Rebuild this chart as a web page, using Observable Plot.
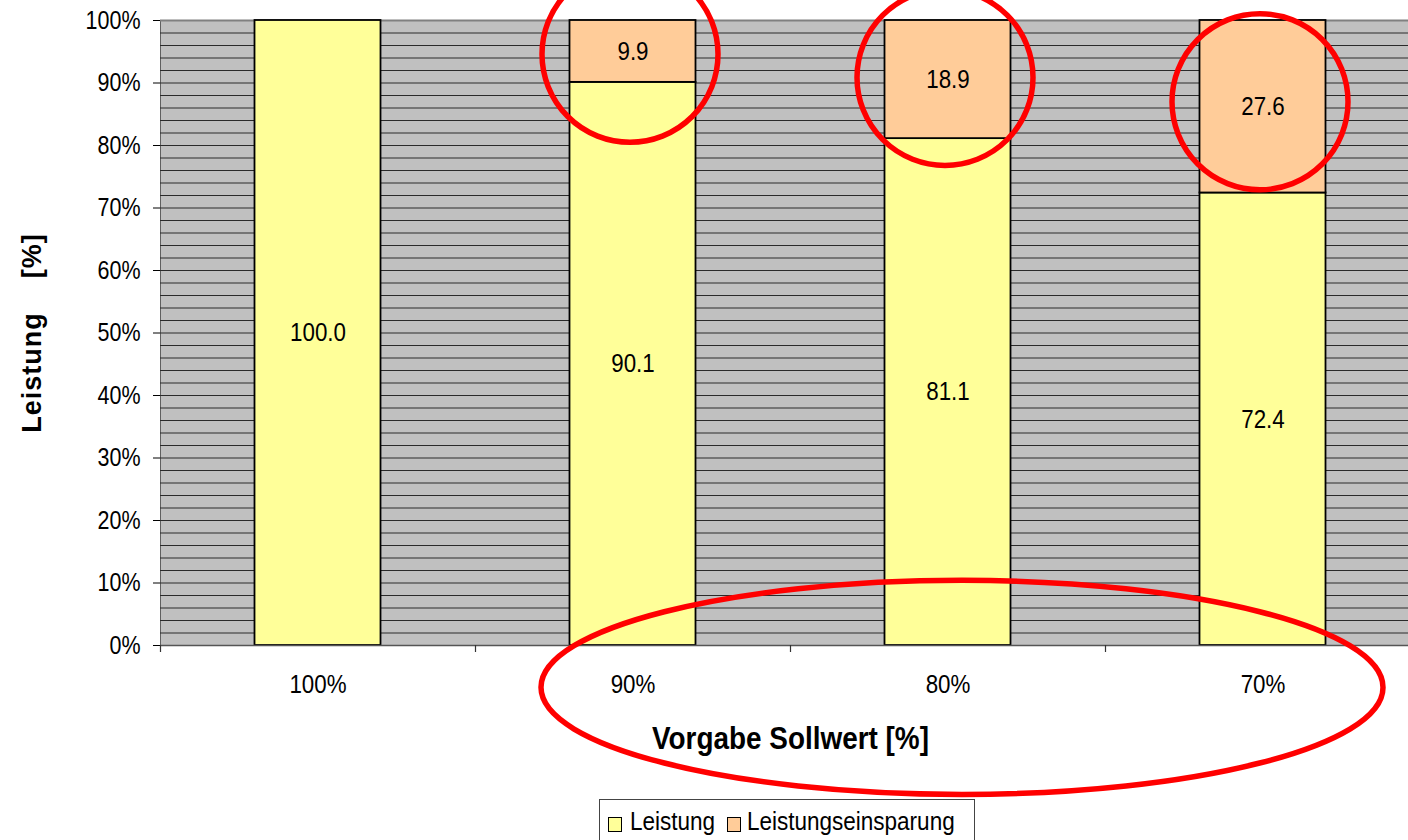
<!DOCTYPE html>
<html>
<head>
<meta charset="utf-8">
<script src="https://cdn.jsdelivr.net/npm/d3@7"></script>
<script src="https://cdn.jsdelivr.net/npm/@observablehq/plot@0.6"></script>
<style>
  body { margin: 0; overflow: hidden; background: #fff; }
  #wrap { position: relative; width: 1420px; height: 840px; font-family: "Liberation Sans", Arial, sans-serif; }
  #legend { position: absolute; left: 599px; top: 799px; width: 376px; height: 50px; box-sizing: border-box;
            border: 1px solid #444; font-size: 25px; line-height: 25px; color: #000; }
  .sw { position: absolute; top: 17px; width: 12px; height: 13px; border: 1px solid #000; }
  .lt { position: absolute; top: 9px; white-space: nowrap; transform: scaleX(0.9); transform-origin: 0 50%; }
</style>
</head>
<body>
<div id="wrap"></div>
<script>
// ---- data ----
const categories = ["100%", "90%", "80%", "70%"];
const leistung = [100.0, 90.1, 81.1, 72.4];
const einsparung = [0, 9.9, 18.9, 27.6];
const seriesNames = ["Leistung", "Leistungseinsparung"];
const seriesColors = ["#FFFF99", "#FFCC99"];
const yTicks = [0, 10, 20, 30, 40, 50, 60, 70, 80, 90, 100];
// annotation marks (red circles around savings, ellipse around reduced setpoints)
const circleCats = ["90%", "80%", "70%"];
const circleY = [94.6, 90.9, 87.0];
const ellipseCat = ["80%"];
const ellipseY = [-6.7];

const table = [];
categories.forEach((c, i) => {
  table.push({cat: c, series: seriesNames[0], value: leistung[i]});
  if (einsparung[i] > 0) table.push({cat: c, series: seriesNames[1], value: einsparung[i]});
});

const W = 1420, H = 800, mL = 160, mR = 0, mT = 20, mB = 155;
const step = (W - mL - mR) / categories.length;
const inset = step * 0.3;
const FONT = '"Liberation Sans", Arial, sans-serif';

function ellipseSymbol(rx, ry) {
  const k = 0.5522847498;
  return {
    draw(ctx) {
      ctx.moveTo(rx, 0);
      ctx.bezierCurveTo(rx, ry * k, rx * k, ry, 0, ry);
      ctx.bezierCurveTo(-rx * k, ry, -rx, ry * k, -rx, 0);
      ctx.bezierCurveTo(-rx, -ry * k, -rx * k, -ry, 0, -ry);
      ctx.bezierCurveTo(rx * k, -ry, rx, -ry * k, rx, 0);
      ctx.closePath();
    }
  };
}

const chart = Plot.plot({
  width: W, height: H,
  marginLeft: mL, marginRight: mR, marginTop: mT, marginBottom: mB,
  style: {fontFamily: FONT, fontSize: "26px", background: "white", maxWidth: "none", overflow: "visible", color: "#000"},
  x: {domain: categories, padding: 0, tickSize: 0, tickPadding: 29, label: null},
  y: {domain: [0, 100], ticks: yTicks, tickFormat: d => d + "%", tickSize: 7, tickPadding: 13, label: null, line: true},
  color: {domain: seriesNames, range: seriesColors},
  marks: [
    Plot.frame({fill: "#C0C0C0", stroke: null}),
    Plot.ruleY(d3.range(2, 100, 2), {stroke: "#2a2a2a", strokeWidth: 1}),
    Plot.ruleY([100], {stroke: "#808080", strokeWidth: 2}),
    Plot.barY(table, {x: "cat", y: "value", fill: "series", stroke: "#000", strokeWidth: 1.8, insetLeft: inset, insetRight: inset}),
    Plot.ruleY([0], {stroke: "#555", strokeWidth: 1.5}),
    Plot.ruleX(categories, {x: d => d, dx: -step / 2, y1: 0, y2: 0, insetBottom: -7, stroke: "#333", strokeWidth: 1.2}),
    Plot.text(table, Plot.stackY({x: "cat", y: "value", z: "series", text: d => d.value.toFixed(1), fill: "#000"})),
    Plot.text(["Leistung    [%]"], {frameAnchor: "left", textAnchor: "middle", dx: -128, rotate: -90, fontWeight: "bold", fontSize: 27, fill: "#000"}),
    Plot.text(["Vorgabe Sollwert [%]"], {frameAnchor: "bottom", textAnchor: "middle", lineAnchor: "bottom", dy: 103, fontWeight: "bold", fontSize: 31, fill: "#000"}),
    Plot.dot(circleCats, {x: d => d, y: (d, i) => circleY[i], r: 88, dx: -3, fill: "none", stroke: "#FF0000", strokeWidth: 5.5}),
    Plot.dot(ellipseCat, {x: d => d, y: (d, i) => ellipseY[i], dx: 14, symbol: ellipseSymbol(421, 107), fill: "none", stroke: "#FF0000", strokeWidth: 5.5})
  ]
});

// narrow the (Excel-like, horizontally compressed) lettering around each text's anchor
function squeeze(sel, s) {
  sel.each(function() {
    const el = d3.select(this);
    const x = +(el.attr("x") || 0);
    const t = el.attr("transform") || "";
    el.attr("transform", `${t} translate(${x},0) scale(${s},1) translate(${-x},0)`);
  });
}
const texts = d3.select(chart).selectAll("text");
texts.filter(function() { return this.textContent.startsWith("Leistung"); }).style("letter-spacing", "1px");
const yAxisTexts = texts.filter(function() { return /^\d+%$/.test(this.textContent) && this.closest("g[aria-label='y-axis tick label']") ; });
yAxisTexts.style("font-size", "25px");
squeeze(texts.filter(function() { return !this.textContent.startsWith("Leistung") && !this.textContent.startsWith("Vorgabe"); }), 0.86);
squeeze(texts.filter(function() { return this.textContent.startsWith("Vorgabe"); }), 0.9);

const wrap = document.getElementById("wrap");
wrap.appendChild(chart);

const legend = document.createElement("div");
legend.id = "legend";
const swLeft = [8, 127], txtLeft = [30, 147];
seriesNames.forEach((n, i) => {
  const sw = document.createElement("div");
  sw.className = "sw";
  sw.style.left = swLeft[i] + "px";
  sw.style.background = seriesColors[i];
  const t = document.createElement("span");
  t.className = "lt";
  t.style.left = txtLeft[i] + "px";
  t.textContent = n;
  legend.appendChild(sw); legend.appendChild(t);
});
wrap.appendChild(legend);
</script>
</body>
</html>
